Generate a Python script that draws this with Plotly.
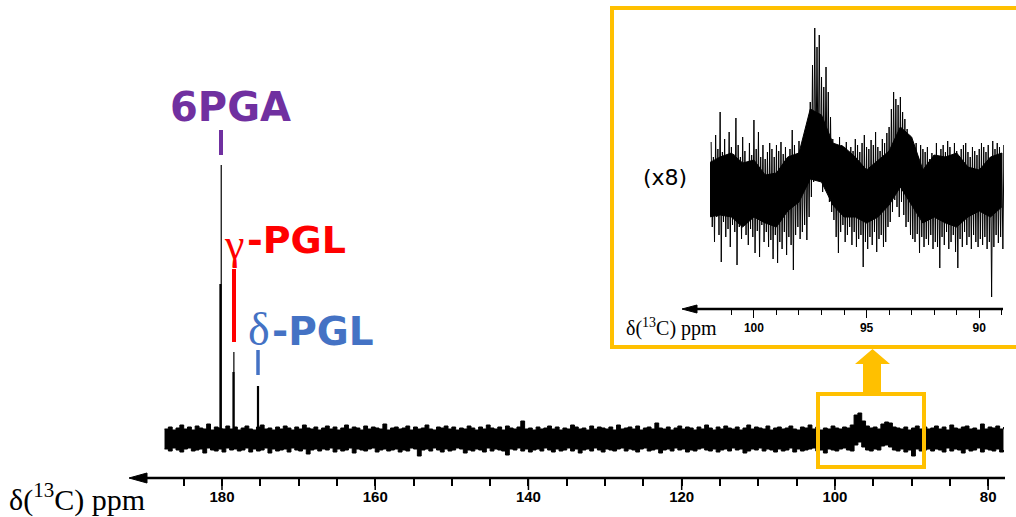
import plotly.graph_objects as go

# ---------------- data ----------------
# main spectrum: ppm grid 187.5 -> 78.0 (step 0.5), upper / lower noise excursions (arb. units above baseline)
main_start_ppm = 187.5
main_step_ppm = 0.5
main_upper = [
    10, 12, 9, 11, 14, 10, 12, 9, 13, 11, 10, 15, 9, 12, 11, 10, 13, 10, 12, 9,
    11, 13, 10, 9, 12, 14, 10, 11, 9, 12, 10, 13, 11, 9, 12, 10, 14, 11, 10, 12,
    9, 11, 13, 10, 12, 9, 11, 14, 10, 12, 11, 9, 13, 10, 12, 11, 10, 15, 9, 11,
    12, 10, 11, 13, 9, 12, 10, 11, 14, 10, 9, 12, 11, 13, 10, 12, 9, 11, 10, 13,
    11, 9, 12, 10, 14, 11, 10, 12, 9, 13, 11, 10, 12, 18, 10, 11, 9, 12, 10, 11,
    13, 10, 12, 9, 11, 10, 14, 12, 10, 11, 9, 13, 10, 12, 11, 10, 12, 9, 14, 10,
    11, 12, 10, 13, 9, 11, 12, 10, 16, 11, 10, 12, 9, 11, 13, 10, 12, 11, 9, 12,
    10, 14, 11, 9, 12, 10, 13, 11, 10, 12, 9, 11, 14, 10, 12, 11, 10, 13, 9, 11,
    12, 10, 11, 13, 10, 9, 12, 11, 14, 10, 12, 9, 11, 10, 13, 11, 10, 12, 11, 14,
    24, 26, 18, 13, 11, 12, 10, 15, 17, 16, 12, 11, 10, 12, 9, 11, 13, 10, 12, 10,
    11, 13, 10, 12, 9, 14, 11, 10, 12, 13, 10, 11, 9, 15, 10, 12, 11, 13, 10, 12,
]
main_lower = [
    -10, -12, -9, -11, -13, -10, -9, -12, -11, -10, -14, -9, -11, -12, -10, -13, -9, -11, -10, -12,
    -11, -9, -13, -10, -12, -11, -9, -14, -10, -12, -11, -10, -13, -9, -11, -12, -10, -15, -11, -10,
    -12, -10, -11, -9, -13, -10, -12, -11, -9, -14, -10, -11, -12, -10, -9, -13, -11, -10, -12, -11,
    -10, -13, -11, -12, -9, -10, -17, -11, -10, -12, -9, -11, -13, -10, -12, -11, -9, -10, -14, -11,
    -12, -10, -11, -13, -9, -12, -10, -11, -12, -16, -10, -11, -9, -12, -10, -13, -11, -10, -12, -9,
    -11, -13, -10, -12, -11, -9, -12, -10, -14, -11, -10, -12, -9, -11, -13, -10, -11, -12, -10, -9,
    -12, -10, -11, -13, -10, -9, -12, -11, -10, -14, -11, -10, -12, -9, -11, -10, -13, -11, -12, -10,
    -9, -11, -12, -10, -13, -11, -10, -12, -9, -11, -10, -14, -12, -10, -11, -9, -12, -10, -11, -13,
    -10, -12, -11, -9, -13, -10, -12, -11, -10, -9, -12, -11, -14, -10, -11, -12, -10, -9, -11, -12,
    -6, -3, -8, -11, -12, -10, -11, -7, -6, -8, -11, -12, -10, -13, -11, -17, -10, -12, -11, -10,
    -12, -10, -11, -13, -9, -12, -10, -11, -14, -10, -12, -11, -9, -13, -10, -11, -12, -10, -13, -11,
]

# sharp carbonyl lines (ppm, height)
peak_thick_ppm = [180.2, 178.5, 175.3]
peak_thick_h = [155, 67, 53]
peak_thin_ppm = [180.1, 178.45]
peak_thin_h = [274, 87]

# inset (x8) extremes: ppm grid 101.9 -> 88.9 (step 0.1)
inset_start_ppm = 101.9
inset_step_ppm = 0.1
inset_upper = [
    45, 30, 52, 38, 75, 35, 48, 28, 55, 40,
    33, 69, 42, 30, 50, 36, 25, 44, 32, 67,
    38, 55, 30, 42, 28, 35, 44, 38, 30, 42,
    36, 45, 33, 40, 28, 38, 57, 42, 30, 46,
    35, 40, 47, 60, 85, 122, 159, 140, 152, 110,
    100, 120, 95, 70, 48, 40, 35, 50, 42, 38,
    45, 32, 40, 36, 48, 42, 35, 44, 52, 40,
    38, 47, 42, 55, 40, 36, 48, 44, 54, 60,
    78, 95, 88, 82, 90, 75, 68, 58, 45, 40,
    36, 44, 30, 42, 38, 35, 40, 28, 34, 32,
    44, 30, 38, 42, 35, 46, 40, 32, 44, 36,
    30, 38, 42, 44, 35, 30, 40, 36, 32, 38,
    44, 40, 35, 42, 30, 46, 38, 44, 40, 34,
    42,
]
inset_lower = [
    -40, -55, -30, -48, -75, -35, -50, -42, -60, -38,
    -45, -78, -40, -52, -35, -48, -58, -42, -50, -66,
    -44, -70, -38, -55, -45, -60, -53, -72, -48, -76,
    -55, -62, -45, -68, -50, -58, -83, -48, -40, -52,
    -45, -38, -53, -30, -10, 5, 10, 8, 6, -5,
    2, 0, -15, -25, -33, -50, -66, -45, -38, -55,
    -48, -40, -58, -45, -60, -52, -48, -80, -55, -62,
    -50, -58, -45, -65, -52, -48, -60, -55, -40, -35,
    -25, -13, -20, -30, -15, -28, -40, -35, -48, -52,
    -55, -47, -66, -50, -60, -52, -58, -48, -62, -55,
    -60, -81, -50, -58, -45, -62, -55, -48, -65, -81,
    -52, -60, -45, -58, -50, -62, -48, -55, -60, -52,
    -58, -50, -62, -55, -110, -60, -48, -56, -50, -62,
    -55,
]
# inset dense core of the trace: ppm grid 102.0 -> 89.0 (step 0.5)
core_start_ppm = 102.0
core_step_ppm = 0.5
core_upper = [24, 30, 34, 24, 27, 12, 14, 30, 34, 78, 72, 44, 40, 30,
              17, 27, 36, 60, 50, 17, 32, 30, 34, 20, 17, 30, 34]
core_lower = [-30, -28, -30, -40, -30, -36, -40, -24, -15, 8, 5, -18, -30, -30,
              -36, -30, -18, 0, -18, -36, -30, -36, -40, -30, -24, -30, -20]

main_ticks = [180, 160, 140, 120, 100, 80]
inset_ticks = [100, 95, 90]

# ---------------- helpers ----------------
W, H = 1016, 517
def px(x):
    return x / W
def py(y):
    return 1 - y / H

def grid(start, step, n):
    return [start - step * i for i in range(n)]

def sticks(ppm, lo, hi):
    xs, ys = [], []
    for p, a, b in zip(ppm, lo, hi):
        xs += [p, p, None]
        ys += [a, b, None]
    return xs, ys

def zigzag(start, step, up, lo):
    xs, ys = [], []
    for i, (u, l) in enumerate(zip(up, lo)):
        p = start - step * i
        xs += [p, p - step / 2]
        ys += [u, l]
    return xs, ys

fig = go.Figure()

def band(xs, up, lo, xa, ya, lw, shape):
    fig.add_trace(go.Scatter(x=xs, y=lo, mode="lines", line=dict(color="black", width=lw, shape=shape),
                             xaxis=xa, yaxis=ya, hoverinfo="skip"))
    fig.add_trace(go.Scatter(x=xs, y=up, mode="lines", line=dict(color="black", width=lw, shape=shape),
                             fill="tonexty", fillcolor="black",
                             xaxis=xa, yaxis=ya, hoverinfo="skip"))

# main spectrum
mgrid = grid(main_start_ppm, main_step_ppm, len(main_upper))
band(mgrid, main_upper, main_lower, "x", "y", 1, "hv")

sx, sy = sticks(peak_thick_ppm, [0] * len(peak_thick_h), peak_thick_h)
fig.add_trace(go.Scatter(x=sx, y=sy, mode="lines", line=dict(color="black", width=2.2),
                         xaxis="x", yaxis="y", hoverinfo="skip"))
sx, sy = sticks(peak_thin_ppm, [0] * len(peak_thin_h), peak_thin_h)
fig.add_trace(go.Scatter(x=sx, y=sy, mode="lines", line=dict(color="black", width=1.2),
                         xaxis="x", yaxis="y", hoverinfo="skip"))

# inset spectrum: dense core + zig-zag excursions
cgrid = grid(core_start_ppm, core_step_ppm, len(core_upper))
band(cgrid, core_upper, core_lower, "x2", "y2", 1, "linear")
zx, zy = zigzag(inset_start_ppm, inset_step_ppm, inset_upper, inset_lower)
fig.add_trace(go.Scatter(x=zx, y=zy, mode="lines", line=dict(color="black", width=1),
                         xaxis="x2", yaxis="y2", hoverinfo="skip"))

YEL = "#FFC000"
shapes = [
    # main axis arrow
    dict(type="line", xref="paper", yref="paper", x0=px(1005), y0=py(478), x1=px(142), y1=py(478),
         line=dict(color="black", width=2.5)),
    dict(type="path", xref="paper", yref="paper",
         path=f"M {px(129)},{py(478)} L {px(147)},{py(473)} L {px(147)},{py(483)} Z",
         fillcolor="black", line=dict(color="black", width=1)),
    # inset axis arrow
    dict(type="line", xref="paper", yref="paper", x0=px(1003), y0=py(309), x1=px(693), y1=py(309),
         line=dict(color="black", width=2.5)),
    dict(type="path", xref="paper", yref="paper",
         path=f"M {px(682)},{py(309)} L {px(697)},{py(305)} L {px(697)},{py(313)} Z",
         fillcolor="black", line=dict(color="black", width=1)),
    # inset frame
    dict(type="rect", xref="paper", yref="paper", x0=px(612), y0=py(8), x1=px(1030), y1=py(347),
         line=dict(color=YEL, width=4)),
    # zoom box on main spectrum
    dict(type="rect", xref="paper", yref="paper", x0=px(818), y0=py(394), x1=px(924), y1=py(467),
         line=dict(color=YEL, width=4)),
    # block arrow
    dict(type="path", xref="paper", yref="paper",
         path=(f"M {px(863)},{py(394)} L {px(863)},{py(364)} L {px(855)},{py(364)} "
               f"L {px(872.5)},{py(349)} L {px(890)},{py(364)} L {px(881)},{py(364)} "
               f"L {px(881)},{py(394)} Z"),
         fillcolor=YEL, line=dict(color=YEL, width=0)),
    # label bars
    dict(type="line", xref="paper", yref="paper", x0=px(221), y0=py(130), x1=px(221), y1=py(155),
         line=dict(color="#7030A0", width=4)),
    dict(type="line", xref="paper", yref="paper", x0=px(234), y0=py(269), x1=px(234), y1=py(342),
         line=dict(color="#FF0000", width=4)),
    dict(type="line", xref="paper", yref="paper", x0=px(258), y0=py(350), x1=px(258), y1=py(375),
         line=dict(color="#4472C4", width=3.5)),
]
# long major ticks on the main axis (placed through the x scale)
for t in main_ticks:
    shapes.append(dict(type="line", xref="x", yref="paper", x0=t, x1=t, y0=py(478), y1=py(490),
                       line=dict(color="black", width=1.5)))

SANS = "DejaVu Sans"
SERIF = "Liberation Serif"
annotations = [
    dict(text="<b>6PGA</b>", x=px(230), y=py(107), font=dict(family=SANS, size=40, color="#7030A0")),
    dict(text="γ", x=px(222), y=py(244), xanchor="left", font=dict(family=SERIF, size=44, color="#FF0000")),
    dict(text="<b>-PGL</b>", x=px(245), y=py(240), xanchor="left", font=dict(family=SANS, size=38, color="#FF0000")),
    dict(text="δ", x=px(246), y=py(329), xanchor="left", font=dict(family=SERIF, size=46, color="#4472C4")),
    dict(text="<b>-PGL</b>", x=px(270), y=py(331), xanchor="left", font=dict(family=SANS, size=39, color="#4472C4")),
    dict(text="(x8)", x=px(665), y=py(177), font=dict(family=SANS, size=22, color="black")),
    dict(text="δ(<sup>13</sup>C) ppm", x=px(77), y=py(497), font=dict(family=SERIF, size=30, color="black")),
    dict(text="δ(<sup>13</sup>C) ppm", x=px(671), y=py(327), font=dict(family=SERIF, size=20, color="black")),
]
for a in annotations:
    a.setdefault("xref", "paper")
    a.setdefault("yref", "paper")
    a.setdefault("showarrow", False)
    a.setdefault("xanchor", "center")
    a.setdefault("yanchor", "middle")

fig.update_layout(
    width=W, height=H,
    margin=dict(l=0, r=0, t=0, b=0),
    paper_bgcolor="white", plot_bgcolor="white",
    showlegend=False,
    shapes=shapes,
    annotations=annotations,
    xaxis=dict(domain=[px(163), px(1005)], range=[187.7, 77.8], anchor="y",
               showgrid=False, zeroline=False, showline=False,
               tickmode="array", tickvals=main_ticks, ticks="outside", ticklen=5,
               tickwidth=1.5, tickcolor="black",
               tickfont=dict(family="Liberation Sans", size=15, color="black", weight="bold"),
               minor=dict(dtick=5, tick0=0, ticks="outside", ticklen=7, tickwidth=1.5, tickcolor="black")),
    yaxis=dict(domain=[py(478), py(100)], range=[439 - 478, 439 - 100], visible=False),
    xaxis2=dict(domain=[px(710), px(1004)], range=[101.95, 88.9], anchor="y2",
                showgrid=False, zeroline=False, showline=False,
                tickmode="array", tickvals=inset_ticks, ticks="outside", ticklen=8,
                tickwidth=1.2, tickcolor="black",
                tickfont=dict(family="Liberation Sans", size=12, color="black", weight="bold"),
                minor=dict(dtick=1, tick0=0, ticks="outside", ticklen=5, tickwidth=1.2, tickcolor="black")),
    yaxis2=dict(domain=[py(309), py(20)], range=[187 - 309, 187 - 20], visible=False),
)

fig.write_html("out.html", config={"displayModeBar": False},
               post_script="document.body.style.margin='0';document.body.style.overflow='hidden';")
